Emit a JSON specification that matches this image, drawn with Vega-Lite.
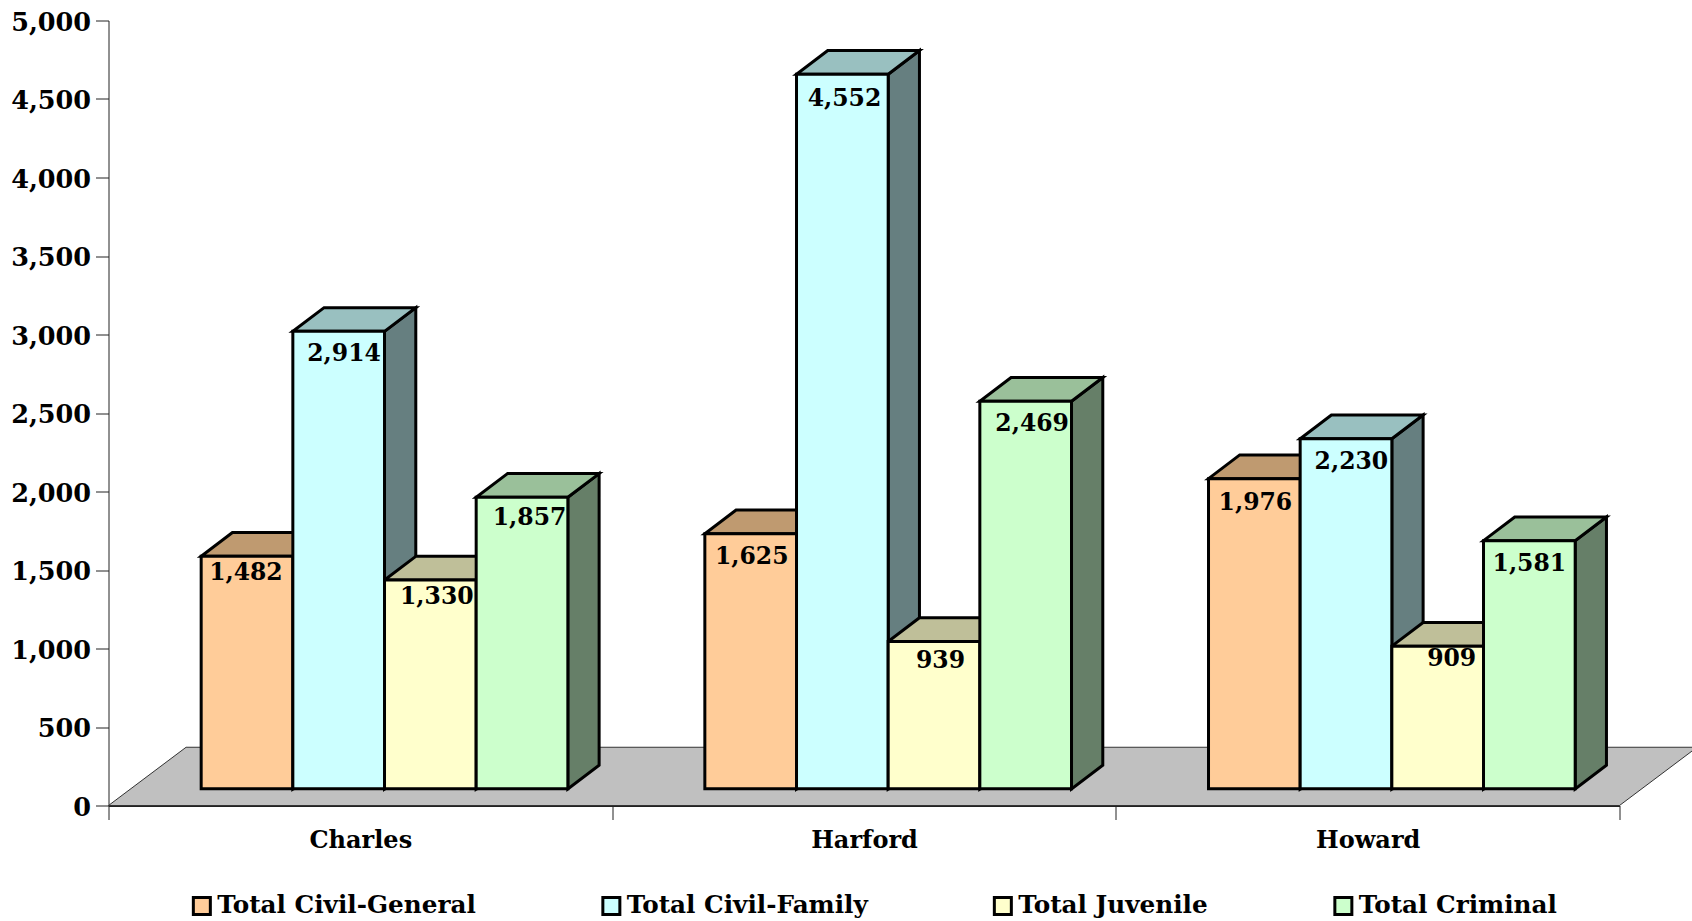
{"$schema":"https://vega.github.io/schema/vega-lite/v6.json","width":1511,"height":785,"padding":{"left":108.5,"top":20.5,"right":72.5,"bottom":115.5},"autosize":"none","background":"white","config":{"view":{"stroke":null},"font":"DejaVu Serif"},
"data":{"values":[
{"county":"Charles","series":"Total Civil-General","value":1482},{"county":"Charles","series":"Total Civil-Family","value":2914},{"county":"Charles","series":"Total Juvenile","value":1330},{"county":"Charles","series":"Total Criminal","value":1857},
{"county":"Harford","series":"Total Civil-General","value":1625},{"county":"Harford","series":"Total Civil-Family","value":4552},{"county":"Harford","series":"Total Juvenile","value":939},{"county":"Harford","series":"Total Criminal","value":2469},
{"county":"Howard","series":"Total Civil-General","value":1976},{"county":"Howard","series":"Total Civil-Family","value":2230},{"county":"Howard","series":"Total Juvenile","value":909},{"county":"Howard","series":"Total Criminal","value":1581}]},
"transform":[
{"calculate":"indexof(['Charles','Harford','Howard'],datum.county)","as":"c"},
{"calculate":"indexof(['Total Civil-General','Total Civil-Family','Total Juvenile','Total Criminal'],datum.series)","as":"s"},
{"calculate":"datum.c+0.184+datum.s*0.182","as":"xL"},
{"calculate":"datum.xL+0.182","as":"xR"},
{"calculate":"106","as":"base"},
{"calculate":"datum.base+datum.value","as":"top"},
{"calculate":"datum.county+datum.series","as":"key"}],
"layer":[
{"data":{"values":[{"a":0,"b":3,"y":0},{"a":0.154,"b":3.154,"y":371}]},"transform":[],"mark":{"type":"area","orient":"horizontal","fill":"#c0c0c0","stroke":"#333333","strokeWidth":1},"encoding":{"x":{"field":"a","type":"quantitative","scale":{"domain":[0,3],"nice":false,"zero":false},"axis":{"values":[0,0.5,1,1.5,2,2.5,3],"labelExpr":"datum.value%1==0?'':['Charles','Harford','Howard'][floor(datum.value)]","title":null,"tickOpacity":{"condition":{"test":"datum.value%1!=0","value":0},"value":1},"tickColor":"#222222","tickSize":14,"domain":true,"domainColor":"#222222","domainWidth":2,"labelFontWeight":"bold","labelFont":"DejaVu Serif","labelFontSize":24,"labelColor":"black","labelPadding":9,"labelFlush":false,"labelOverlap":false,"grid":false}},"x2":{"field":"b"},"y":{"field":"y","type":"quantitative","scale":{"domain":[0,5000],"nice":false},"axis":{"values":[0,500,1000,1500,2000,2500,3000,3500,4000,4500,5000],"title":null,"grid":false,"format":",d","domainColor":"#222222","tickColor":"#222222","tickSize":13,"labelFontWeight":"bold","labelFont":"DejaVu Serif","labelFontSize":25.5,"labelColor":"black","labelPadding":5,"labelOffset":1.5}}}},
{"transform":[{"calculate":"[0,1]","as":"t"},{"flatten":["t"]},{"calculate":"datum.xR+datum.t*0.0621","as":"px"},{"calculate":"datum.top+datum.t*151","as":"py"},{"calculate":"datum.base+datum.t*151","as":"py2"}],"mark":{"type":"area","orient":"vertical","stroke":"black","strokeWidth":3,"strokeJoin":"miter"},"encoding":{"x":{"field":"px","type":"quantitative"},"y":{"field":"py","type":"quantitative","stack":null},"y2":{"field":"py2"},"detail":{"field":"key"},"color":{"field":"series","type":"nominal","legend":null,"scale":{"domain":["Total Civil-General","Total Civil-Family","Total Juvenile","Total Criminal"],"range":["#667f68","#667f80","#667f68","#667f68"]}}}},
{"transform":[{"calculate":"[0,1]","as":"t"},{"flatten":["t"]},{"calculate":"datum.xL+datum.t*0.0621","as":"px"},{"calculate":"datum.xR+datum.t*0.0621","as":"px2"},{"calculate":"datum.top+datum.t*151","as":"py"}],"mark":{"type":"area","orient":"horizontal","stroke":"black","strokeWidth":3,"strokeJoin":"miter"},"encoding":{"x":{"field":"px","type":"quantitative","stack":null},"x2":{"field":"px2"},"y":{"field":"py","type":"quantitative"},"detail":{"field":"key"},"color":{"field":"series","type":"nominal","legend":null,"scale":{"domain":["Total Civil-General","Total Civil-Family","Total Juvenile","Total Criminal"],"range":["#bf9a70","#99c0c0","#bfbf99","#9ac09a"]}}}},
{"mark":{"type":"rect","stroke":"black","strokeWidth":3},"encoding":{"x":{"field":"xL","type":"quantitative"},"x2":{"field":"xR"},"y":{"field":"base","type":"quantitative"},"y2":{"field":"top"},"color":{"field":"series","type":"nominal","scale":{"domain":["Total Civil-General","Total Civil-Family","Total Juvenile","Total Criminal"],"range":["#ffcc99","#ccffff","#ffffcc","#ccffcc"]},"legend":{"orient":"none","legendX":81,"legendY":873,"direction":"horizontal","columns":4,"title":null,"symbolType":"square","symbolSize":289,"symbolStrokeColor":"black","symbolStrokeWidth":3,"symbolOpacity":1,"labelFont":"DejaVu Serif","labelFontWeight":"bold","labelFontSize":24.7,"labelColor":"black","labelLimit":500,"columnPadding":119.5,"labelOffset":3,"gridAlign":"each"}}}},
{"transform":[{"calculate":"datum.c*4+datum.s","as":"i"},{"calculate":"datum.xL+0.091+[-1,5,6,7,1,2,6,6,1,5,13,0][datum.i]/467","as":"lx"},{"calculate":"datum.top-[16,21,16,19,22,23,18,21,23,22,12,22][datum.i]/0.1456","as":"ly"}],"mark":{"type":"text","font":"DejaVu Serif","fontWeight":"bold","fontSize":23.5,"color":"black","baseline":"middle","align":"center"},"encoding":{"x":{"field":"lx","type":"quantitative"},"y":{"field":"ly","type":"quantitative"},"text":{"field":"value","type":"quantitative","format":",d"}}}
],"resolve":{"scale":{"color":"independent"}}}
